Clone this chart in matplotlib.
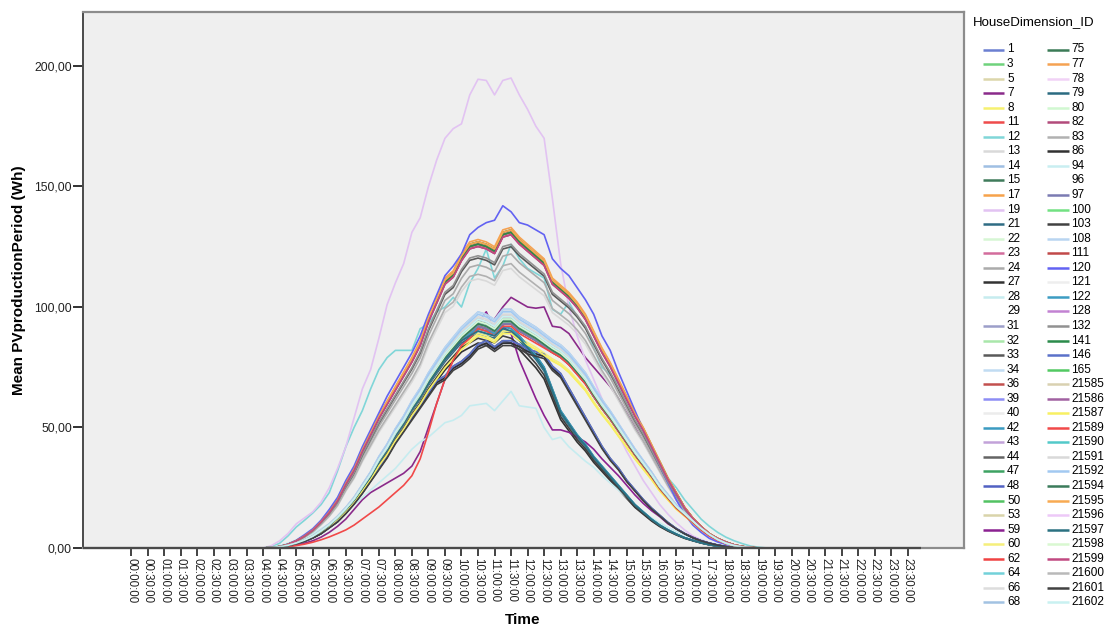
import matplotlib
matplotlib.use("Agg")
import matplotlib.pyplot as plt
from matplotlib.lines import Line2D
import numpy as np

plt.rcParams['font.family'] = ['Liberation Sans', 'DejaVu Sans']

# 15-minute time slots over one day; ticks every 30 minutes
slots = [f"{h:02d}:{m:02d}:00" for h in range(24) for m in (0, 15, 30, 45)]
tick_labels = slots[::2]
first_slot = 16  # profiles below start at 04:00

# Mean PV production profiles (Wh), 15-min steps from 04:00 onwards
profile_top = [0, 0.2, 0.6, 1.5, 3, 5, 7.5, 11, 15, 20, 27, 33, 41, 48, 55, 61,
               67, 73, 79, 86, 96, 104, 112, 115, 122, 127, 128, 127, 125, 132, 133, 129,
               126, 123, 120, 112, 109, 106, 102, 97, 90, 83, 77, 70, 63, 56, 50, 43,
               36, 29, 23, 17, 12.5, 9, 6, 4, 2.5, 1.3, 0.6, 0.2, 0]
profile_blue = [0, 0.2, 0.6, 1.6, 3.2, 5.5, 8, 11.5, 16, 21, 28, 34, 42, 49, 56, 63,
                69, 75, 81, 88, 97, 105, 113, 117, 122, 130, 133, 135, 136, 142, 139.5, 135,
                134, 132, 130, 120, 116, 113, 108, 103, 97, 88, 82, 73, 65, 57, 49, 41,
                34, 27, 20, 14, 9.5, 6.5, 4, 2.5, 1.5, 0.8, 0.3, 0.1, 0]
profile_lilac = [0, 1, 3, 6, 10, 12.5, 15, 19, 25, 33, 42, 54, 66, 74, 87, 101,
                 110, 118, 131, 137, 150, 161, 170, 174, 176, 188, 194.5, 194, 188, 194, 195, 188,
                 182, 175, 170, 145, 118, 100, 88, 78, 70, 62, 54, 47, 40, 34, 28, 23,
                 18, 14, 10.5, 7.5, 5, 3.5, 2.2, 1.3, 0.7, 0.3, 0.1, 0]
profile_cyan = [0, 0.5, 2, 5, 8.7, 11.5, 14.5, 18, 23, 32, 42, 50, 57, 66, 74, 79,
                82, 82, 82, 91, 93, 98, 100, 104, 100, 110, 116, 124, 112, 117, 126, 120,
                116, 114, 112, 99, 97, 102, 96, 92, 83, 75, 72, 68, 60, 56, 46, 40,
                36, 29, 25, 20, 16, 12, 9, 6.5, 4.5, 3, 1.8, 0.8, 0.3, 0]
profile_mid = [0, 0.2, 0.5, 1.1, 2, 3.2, 4.8, 7, 9.5, 12.5, 16, 20, 25, 30, 36, 41,
               47, 52, 58, 63, 69, 74, 79, 83, 87, 90, 93, 92, 90, 94, 94, 91,
               89, 87, 84.5, 82, 80, 77, 73, 69, 63.5, 58.5, 54, 49, 44, 39, 34.5, 30,
               25, 21, 17, 14, 11, 8, 5.5, 3.5, 2, 1, 0.4, 0.1, 0]
profile_drop = [0, 0.2, 0.5, 1.1, 2, 3.2, 4.8, 7, 9.5, 12.5, 16, 20, 25, 30, 36, 41,
                47, 52, 58, 63, 69, 74, 79, 83, 87, 89, 91, 90, 89, 92, 91, 88,
                84, 80, 75, 66, 57, 52, 47, 43, 38, 34, 30, 26, 22, 18, 15, 12,
                9.5, 7.5, 5.8, 4.3, 3.2, 2.2, 1.4, 0.8, 0.4, 0.1, 0]
profile_black = [0, 0.2, 0.5, 1, 1.8, 2.8, 4.2, 6, 8.5, 11, 14.5, 18.5, 23, 28, 33, 38,
                 44, 49, 54, 59, 64, 69, 71, 75, 77, 80, 84, 85.5, 83, 85.5, 85.5, 84,
                 82, 81, 80, 75, 72, 66, 60, 54, 48, 42, 37, 33, 28, 24, 20, 16.5,
                 13.5, 10.5, 8, 6, 4.3, 3, 2, 1.2, 0.6, 0.2, 0]
profile_purple_late = [0, 0.1, 0.3, 0.7, 1.2, 2, 3, 4.5, 6.5, 9, 12, 16, 20, 23, 25, 27,
                       29, 31, 34, 40, 50, 60, 70, 78, 84, 88, 92, 91, 95, 100, 104, 102,
                       100, 99.5, 100, 92, 91.5, 89, 84, 79, 75, 71, 67, 62, 56, 50, 44, 38,
                       32, 26, 20, 15, 11, 7.5, 5, 3, 1.8, 0.9, 0.3, 0.1, 0]
profile_purple_drop = [0, 0.2, 0.5, 1.1, 2, 3.2, 4.8, 7, 9.5, 12.5, 16, 20, 25, 30, 36, 41,
                       47, 52, 58, 63, 69, 74, 79, 83, 87, 90, 93, 98, 90, 92, 89, 78,
                       70, 62, 55, 49, 49, 48, 46, 44, 41, 37, 33.5, 30, 26, 22, 18.5, 15.5,
                       13, 10, 8, 6, 4.5, 3, 2, 1.2, 0.6, 0.2, 0]
profile_low = [0, 0.3, 1, 2, 3.2, 4.5, 6, 8, 10, 12.5, 15, 18, 21, 24, 27, 30,
               33, 37, 41, 44, 46, 49, 52, 53, 55, 59, 59.5, 60, 57, 61, 65, 59,
               58.5, 58, 50, 45, 46, 42, 39, 36, 33.5, 30, 27, 24, 21, 18, 15, 12.5,
               10.4, 8.5, 6.8, 5.5, 4.3, 3.2, 2.2, 1.4, 0.8, 0.4, 0.1, 0]
profile_red_late = [0, 0.1, 0.3, 0.6, 1, 1.6, 2.4, 3.4, 4.6, 6, 7.5, 9.5, 12, 14.5, 17, 20,
                    23, 26, 30, 37, 48, 60, 70, 78, 84, 87, 91, 90, 88, 92, 92, 89,
                    87, 85, 83, 81, 79, 76, 72, 68, 63, 58, 53.5, 48.5, 43.5, 38.5, 34, 29.5,
                    24.5, 20.5, 16.5, 13.5, 10.5, 7.5, 5, 3.2, 1.8, 0.9, 0.3, 0.1, 0]

profiles = {
    "top": profile_top, "blue": profile_blue, "lilac": profile_lilac,
    "cyan": profile_cyan, "mid": profile_mid, "drop": profile_drop,
    "black": profile_black, "purple_late": profile_purple_late,
    "purple_drop": profile_purple_drop, "low": profile_low, "red_late": profile_red_late,
}

house_ids = ["1", "3", "5", "7", "8", "11", "12", "13", "14", "15", "17", "19", "21",
             "22", "23", "24", "27", "28", "29", "31", "32", "33", "34", "36", "39", "40",
             "42", "43", "44", "47", "48", "50", "53", "59", "60", "62", "64", "66", "68",
             "75", "77", "78", "79", "80", "82", "83", "86", "94", "96", "97", "100", "103",
             "108", "111", "120", "121", "122", "128", "132", "141", "146", "165", "21585",
             "21586", "21587", "21589", "21590", "21591", "21592", "21594", "21595", "21596",
             "21597", "21598", "21599", "21600", "21601", "21602"]

house_profile = ["top", "mid", "mid", "purple_late", "mid", "mid", "cyan", "top", "mid", "mid",
                 "top", "lilac", "drop", "mid", "top", "top", "drop", "low", "mid", "mid",
                 "mid", "top", "mid", "mid", "top", "mid", "drop", "mid", "black", "top",
                 "black", "mid", "mid", "purple_drop", "mid", "top", "mid", "mid", "mid",
                 "top", "top", "mid", "drop", "mid", "mid", "top", "black", "mid", "mid", "mid",
                 "mid", "drop", "mid", "top", "blue", "mid", "drop", "mid", "top", "top",
                 "black", "mid", "mid", "mid", "mid", "red_late", "mid", "mid", "mid", "mid",
                 "top", "mid", "drop", "mid", "top", "mid", "black", "mid"]

# Daily peak of each house's mean profile (Wh)
house_peak = [131, 95, 96, 104, 89, 93, 126, 116, 98, 94,
              132, 195, 90, 96, 131, 122, 86, 65, 97, 95,
              94, 125, 98, 93, 130, 97, 91, 95, 86, 131,
              85, 93, 95, 98, 90, 131, 94, 96, 99,
              132, 133, 96, 92, 95, 93, 118, 85, 97, 98, 93,
              95, 88, 99, 130, 142, 97, 92, 94, 126, 131,
              86, 94, 96, 95, 89, 92, 95, 97, 98, 94,
              132, 96, 91, 95, 130, 96, 84, 96]

house_colors = ["#6b7fd1", "#6fd27c", "#dcd6ab", "#8a2a8a", "#f6f170", "#ef4b4b", "#80d6d8",
                "#d9d9d9", "#9fbfe3", "#3f7b5b", "#f6a24b", "#e2c3f2", "#2f6c84", "#d6f6d4",
                "#d36c9c", "#ababab", "#333333", "#c6ecef", "#ffffff", "#9c9ec9", "#a9e7aa",
                "#595959", "#c1dcf2", "#c2504e", "#8d8df5", "#ececec", "#3b9bc1", "#c2a2d9",
                "#646464", "#3da262", "#5161c2", "#52c263", "#d9d4aa", "#8b2191", "#f5ef7b",
                "#f04343", "#72d1d9", "#dddddd", "#a2c2e2",
                "#3b7b56", "#f5a252", "#f1d2f6", "#2b6b81", "#d1f8d1", "#b24b7b", "#b1b1b1",
                "#313131", "#c9eef1", "#ffffff", "#7b7bb2", "#72e182", "#414141", "#b9d5f1",
                "#c14949", "#6262f2", "#eeeeee", "#3c9cc2", "#c282d2", "#919191", "#2b8b4b",
                "#5b71c9", "#52c962", "#d9d1b1", "#a161a1", "#f8f062", "#f14949", "#52c9c9",
                "#d9d9d9", "#a2c9f1", "#3b7b5b", "#f8aa52", "#edc9f8", "#2b7181", "#d9f8d1",
                "#c14981", "#b9b9b9", "#414141", "#c9f1f1"]

W, H = 1109, 628
fig = plt.figure(figsize=(W / 100, H / 100), dpi=100)
ax = fig.add_axes([83 / W, 1 - 548 / H, (964 - 83) / W, (548 - 12) / H])
ax.set_facecolor("#efefef")

x = np.arange(len(slots))
for hid, prof, peak, col in zip(house_ids, house_profile, house_peak, house_colors):
    base = np.array(profiles[prof], dtype=float)
    vals = np.zeros(len(slots))
    vals[first_slot:first_slot + len(base)] = base * (peak / base.max())
    ax.plot(x, vals, color=col, lw=1.2, solid_joinstyle="round")

ax.set_xlim(-5.81, 100.82)
ax.set_ylim(0, 222.4)

ax.set_xticks(x[::2])
ax.set_xticklabels(tick_labels, rotation=-90, fontsize=8.3)
ax.set_yticks([0, 50, 100, 150, 200])
ax.set_yticklabels([f"{v:.2f}".replace(".", ",") for v in [0, 50, 100, 150, 200]],
                   fontsize=8.8)
ax.tick_params(axis="x", direction="out", length=6, width=1.2, pad=1, colors="#222222")
ax.tick_params(axis="y", direction="out", length=7, width=1.3, pad=1, colors="#222222")

for side in ("top", "right", "bottom"):
    ax.spines[side].set_color("#8c8c8c")
    ax.spines[side].set_linewidth(1.6)
ax.spines["left"].set_color("#4a4a4a")
ax.spines["left"].set_linewidth(1.4)
# axis line across the category range
ax.plot([-5.81, 95.6], [0, 0], color="#4a4a4a", lw=1.6, zorder=10, clip_on=False,
        solid_capstyle="butt")

ax.set_ylabel("Mean PVproductionPeriod (Wh)", fontsize=11, fontweight="bold", labelpad=6)
fig.text(523 / W, 1 - 620 / H, "Time", fontsize=11, fontweight="bold",
         ha="center", va="center")

# Legend, two columns
fig.text(973 / W, 1 - 22 / H, "HouseDimension_ID", fontsize=9.5, ha="left", va="center")
rows = 39
for k, (hid, col) in enumerate(zip(house_ids, house_colors)):
    c, r = divmod(k, rows)
    y = 1 - (49.5 + r * 14.55) / H
    x0, x1, xt = (983, 1004, 1007) if c == 0 else (1047, 1069, 1071)
    fig.add_artist(Line2D([x0 / W, x1 / W], [y, y], transform=fig.transFigure,
                          color=col, lw=1.8, solid_capstyle="butt"))
    fig.text(xt / W, y, hid, fontsize=8.5, ha="left", va="center")

fig.savefig("out.png", dpi=100, facecolor="white")
